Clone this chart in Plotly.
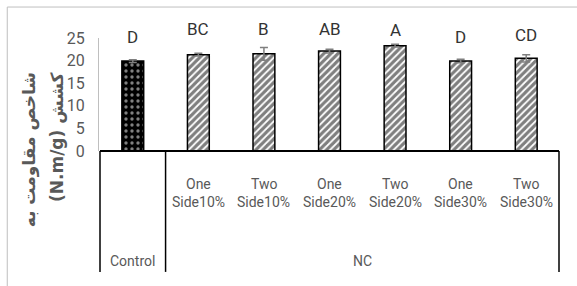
import plotly.graph_objects as go

categories = ["Control", "One Side10%", "Two Side10%", "One Side20%", "Two Side20%", "One Side30%", "Two Side30%"]
line1 = ["", "One", "Two", "One", "Two", "One", "Two"]
line2 = ["", "Side10%", "Side10%", "Side20%", "Side20%", "Side30%", "Side30%"]
values = [19.9, 21.3, 21.5, 22.1, 23.3, 19.9, 20.5]
errors = [0.3, 0.3, 1.4, 0.4, 0.3, 0.4, 0.8]
letters = ["D", "BC", "B", "AB", "A", "D", "CD"]
letter_y = [25.3, 27.0, 27.0, 27.0, 26.8, 25.3, 25.7]
groups = ["Control", "NC"]
title_lines = ["شاخص مقاومت به", "(N.m/g) کشش"]
YMAX = 25

GRAY = "#595959"
FONT = "Roboto, Liberation Sans, sans-serif"

fig = go.Figure()
fig.add_trace(go.Bar(
    x=categories[:1], y=values[:1],
    error_y=dict(type="data", array=errors[:1], color="#7f7f7f", thickness=1.5, width=4),
    marker=dict(color="black", line=dict(color="black", width=1.5),
                pattern=dict(shape=".", fgcolor="white", bgcolor="black", size=6, solidity=0.25)),
    showlegend=False,
))
fig.add_trace(go.Bar(
    x=categories[1:], y=values[1:],
    error_y=dict(type="data", array=errors[1:], color="#7f7f7f", thickness=1.5, width=4),
    marker=dict(color="white", line=dict(color="black", width=1.5),
                pattern=dict(shape="/", fgcolor="black", bgcolor="white", size=5, solidity=0.65)),
    showlegend=False,
))

fig.update_layout(
    width=577, height=286,
    margin=dict(l=99, r=17, t=38, b=135),
    paper_bgcolor="white", plot_bgcolor="white",
    bargap=0.667, barmode="overlay",
    font=dict(family=FONT, color=GRAY),
)
fig.update_yaxes(range=[0, YMAX], tickvals=[0, 5, 10, 15, 20, 25], showgrid=False, zeroline=False,
                 showline=True, linecolor="#bfbfbf", linewidth=1, ticks="",
                 tickfont=dict(family=FONT, size=16, color=GRAY),
                 ticklabelstandoff=10)
fig.update_xaxes(categoryorder="array", categoryarray=categories, showticklabels=False,
                 showline=False, showgrid=False, zeroline=False, ticks="")

# letters
for c, l, ly in zip(categories, letters, letter_y):
    fig.add_annotation(x=c, y=ly / YMAX, xref="x", yref="paper", text=l, showarrow=False,
                       yanchor="middle",
                       font=dict(family=FONT, size=17, color="#333333"))

# category labels
for c, a, b in zip(categories, line1, line2):
    if a:
        fig.add_annotation(x=c, y=-0.292, xref="x", yref="paper", text=a, showarrow=False,
                           yanchor="middle", font=dict(family=FONT, size=14, color=GRAY))
        fig.add_annotation(x=c, y=-0.455, xref="x", yref="paper", text=b, showarrow=False,
                           yanchor="middle", font=dict(family=FONT, size=14, color=GRAY))

fig.add_annotation(x=0, y=-0.975, xref="x", yref="paper", text=groups[0], showarrow=False,
                   yanchor="middle", font=dict(family=FONT, size=14, color=GRAY))
fig.add_annotation(x=3.5, y=-0.975, xref="x", yref="paper", text=groups[1], showarrow=False,
                   yanchor="middle", font=dict(family=FONT, size=14, color=GRAY))

# table lines
fig.add_shape(type="line", xref="x", yref="paper", x0=-0.5, x1=6.5, y0=0, y1=0,
              line=dict(color="black", width=2))
for xv in [-0.5, 0.5, 6.5]:
    fig.add_shape(type="line", xref="x", yref="paper", x0=xv, x1=xv, y0=0, y1=-1.07,
                  line=dict(color="black", width=1.5))

# outer frame (partially visible)
fig.add_shape(type="line", xref="paper", yref="paper", x0=-0.199, x1=1.05, y0=1.274, y1=1.274,
              line=dict(color="#bfbfbf", width=1))
fig.add_shape(type="line", xref="paper", yref="paper", x0=-0.199, x1=-0.199, y0=1.274, y1=-1.3,
              line=dict(color="#bfbfbf", width=1))

# y-axis title (Persian, two lines)
for xp, t in zip([-0.15, -0.091], title_lines):
    fig.add_annotation(x=xp, y=0.717, xref="paper", yref="paper", text=t,
                       textangle=-90, showarrow=False, xanchor="center", yanchor="top",
                       font=dict(family="DejaVu Sans, sans-serif", size=17, color=GRAY, weight="bold"))

fig.write_html("out.html", config={"displayModeBar": False},
               post_script="document.body.style.margin='0';")
